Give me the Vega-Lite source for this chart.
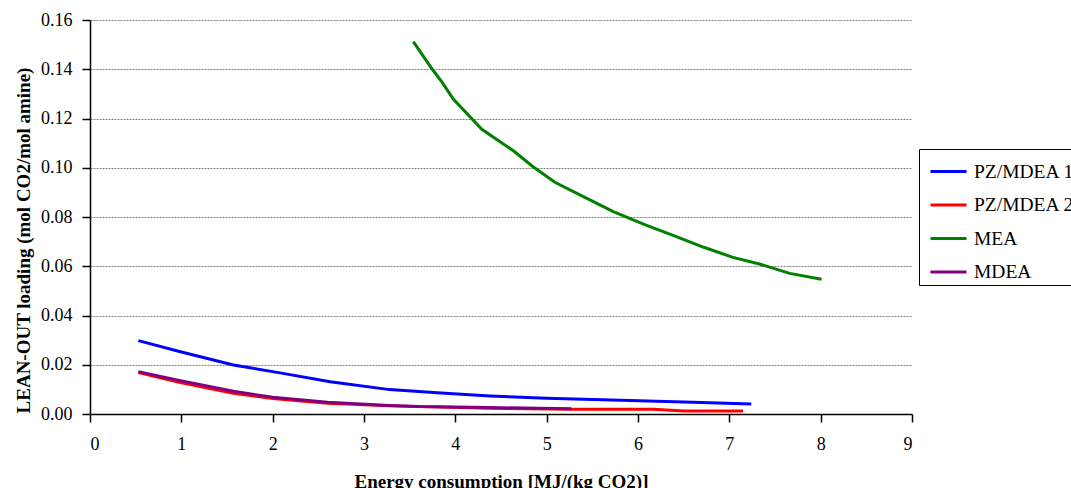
{
  "$schema": "https://vega.github.io/schema/vega-lite/v6.json",
  "width": 822,
  "height": 394,
  "autosize": {"type": "none"},
  "padding": {"left": 90, "top": 20, "right": 159, "bottom": 74},
  "background": "white",
  "config": {
    "view": {"stroke": null},
    "font": "Liberation Serif"
  },
  "data": {
    "values": [
      {"series": "PZ/MDEA 1", "energy": 0.53, "loading": 0.0298},
      {"series": "PZ/MDEA 1", "energy": 0.99, "loading": 0.0253},
      {"series": "PZ/MDEA 1", "energy": 1.57, "loading": 0.0199},
      {"series": "PZ/MDEA 1", "energy": 2.08, "loading": 0.0167},
      {"series": "PZ/MDEA 1", "energy": 2.63, "loading": 0.0131},
      {"series": "PZ/MDEA 1", "energy": 3.28, "loading": 0.0099},
      {"series": "PZ/MDEA 1", "energy": 3.8, "loading": 0.0086},
      {"series": "PZ/MDEA 1", "energy": 4.38, "loading": 0.0073},
      {"series": "PZ/MDEA 1", "energy": 5.0, "loading": 0.0064},
      {"series": "PZ/MDEA 1", "energy": 5.91, "loading": 0.0055},
      {"series": "PZ/MDEA 1", "energy": 6.6, "loading": 0.0048},
      {"series": "PZ/MDEA 1", "energy": 7.24, "loading": 0.0041},

      {"series": "PZ/MDEA 2", "energy": 0.53, "loading": 0.0168},
      {"series": "PZ/MDEA 2", "energy": 0.99, "loading": 0.0128},
      {"series": "PZ/MDEA 2", "energy": 1.57, "loading": 0.0084},
      {"series": "PZ/MDEA 2", "energy": 2.0, "loading": 0.0063},
      {"series": "PZ/MDEA 2", "energy": 2.6, "loading": 0.0044},
      {"series": "PZ/MDEA 2", "energy": 3.28, "loading": 0.0033},
      {"series": "PZ/MDEA 2", "energy": 4.38, "loading": 0.0023},
      {"series": "PZ/MDEA 2", "energy": 5.27, "loading": 0.0019},
      {"series": "PZ/MDEA 2", "energy": 6.17, "loading": 0.0019},
      {"series": "PZ/MDEA 2", "energy": 6.5, "loading": 0.0012},
      {"series": "PZ/MDEA 2", "energy": 7.15, "loading": 0.0012},

      {"series": "MEA", "energy": 3.54, "loading": 0.1512},
      {"series": "MEA", "energy": 3.74, "loading": 0.1404},
      {"series": "MEA", "energy": 3.85, "loading": 0.135},
      {"series": "MEA", "energy": 3.98, "loading": 0.1278},
      {"series": "MEA", "energy": 4.29, "loading": 0.1156},
      {"series": "MEA", "energy": 4.49, "loading": 0.1106},
      {"series": "MEA", "energy": 4.65, "loading": 0.1065},
      {"series": "MEA", "energy": 4.84, "loading": 0.1007},
      {"series": "MEA", "energy": 5.09, "loading": 0.0941},
      {"series": "MEA", "energy": 5.38, "loading": 0.0887},
      {"series": "MEA", "energy": 5.73, "loading": 0.0822},
      {"series": "MEA", "energy": 6.08, "loading": 0.0768},
      {"series": "MEA", "energy": 6.42, "loading": 0.072},
      {"series": "MEA", "energy": 6.72, "loading": 0.0677},
      {"series": "MEA", "energy": 7.04, "loading": 0.0636},
      {"series": "MEA", "energy": 7.34, "loading": 0.0608},
      {"series": "MEA", "energy": 7.66, "loading": 0.0571},
      {"series": "MEA", "energy": 8.01, "loading": 0.0547},

      {"series": "MDEA", "energy": 0.53, "loading": 0.0172},
      {"series": "MDEA", "energy": 0.99, "loading": 0.0135},
      {"series": "MDEA", "energy": 1.57, "loading": 0.0092},
      {"series": "MDEA", "energy": 2.0, "loading": 0.0068},
      {"series": "MDEA", "energy": 2.6, "loading": 0.0048},
      {"series": "MDEA", "energy": 3.28, "loading": 0.0035},
      {"series": "MDEA", "energy": 3.6, "loading": 0.003},
      {"series": "MDEA", "energy": 4.38, "loading": 0.0026},
      {"series": "MDEA", "energy": 5.27, "loading": 0.0021}
    ]
  },
  "mark": {"type": "line", "strokeWidth": 3, "clip": false},
  "encoding": {
    "x": {
      "field": "energy",
      "type": "quantitative",
      "scale": {"domain": [0, 9], "nice": false},
      "axis": {
        "title": "Energy consumption [MJ/(kg CO2)]",
        "values": [0, 1, 2, 3, 4, 5, 6, 7, 8, 9],
        "format": "d",
        "grid": false,
        "domainColor": "black",
        "domainWidth": 1.5,
        "tickColor": "black",
        "tickWidth": 1.5,
        "tickSize": 8,
        "labelFont": "Liberation Serif",
        "labelFontSize": 18,
        "labelColor": "black",
        "labelPadding": 13,
        "titleFont": "Liberation Serif",
        "titleFontSize": 19,
        "titleFontWeight": "bold",
        "titleColor": "black",
        "titleBaseline": "alphabetic",
        "titleY": 73
      }
    },
    "y": {
      "field": "loading",
      "type": "quantitative",
      "scale": {"domain": [0, 0.16], "nice": false},
      "axis": {
        "title": "LEAN-OUT loading (mol CO2/mol amine)",
        "values": [0, 0.02, 0.04, 0.06, 0.08, 0.1, 0.12, 0.14, 0.16],
        "format": ".2f",
        "grid": true,
        "gridColor": "#808080",
        "gridDash": [2, 1],
        "gridWidth": 1,
        "domainColor": "black",
        "domainWidth": 1.5,
        "tickColor": "black",
        "tickWidth": 1.5,
        "tickSize": 8,
        "labelFont": "Liberation Serif",
        "labelFontSize": 18,
        "labelColor": "black",
        "labelPadding": 10,
        "titleFont": "Liberation Serif",
        "titleFontSize": 19,
        "titleFontWeight": "bold",
        "titleColor": "black",
        "titleBaseline": "middle",
        "titleX": -67,
        "titleY": 220
      }
    },
    "color": {
      "field": "series",
      "type": "nominal",
      "scale": {
        "domain": ["PZ/MDEA 1", "PZ/MDEA 2", "MEA", "MDEA"],
        "range": ["#0000ff", "#ff0000", "#008000", "#800080"]
      },
      "legend": {
        "title": null,
        "orient": "none",
        "legendX": 829,
        "legendY": 129,
        "strokeColor": "black",
        "padding": 3,
        "symbolOffset": 7,
        "symbolType": "stroke",
        "symbolSize": 1296,
        "symbolStrokeWidth": 3,
        "labelFont": "Liberation Serif",
        "labelFontSize": 19.5,
        "labelColor": "black",
        "labelOffset": 6,
        "rowPadding": 4.5,
        "labelLimit": 300
      }
    }
  }
}
